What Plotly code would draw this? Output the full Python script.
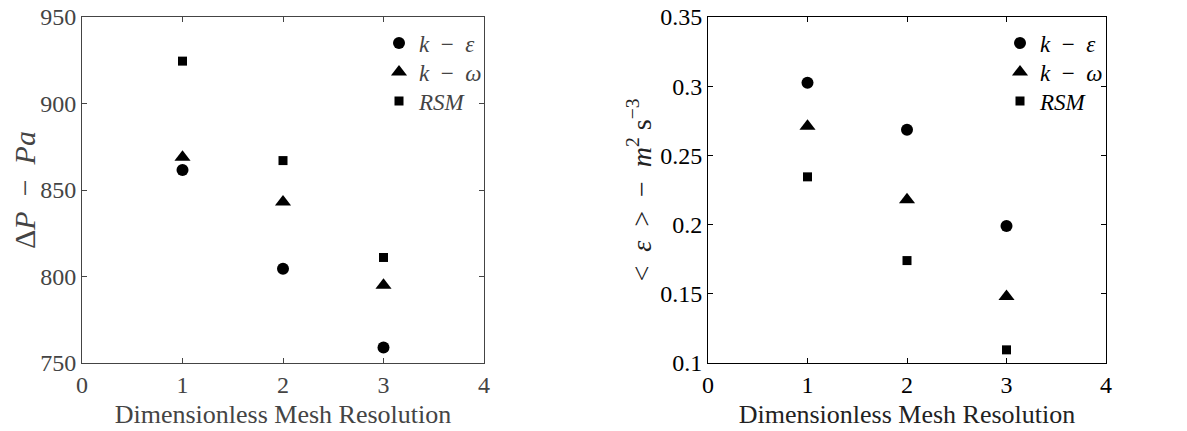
import plotly.graph_objects as go

mesh = [1, 2, 3]
dp_keps = [861.5, 804.5, 759]
dp_komega = [869, 843, 795]
dp_rsm = [924.5, 867, 811]
eps_keps = [0.3025, 0.2685, 0.199]
eps_komega = [0.271, 0.218, 0.148]
eps_rsm = [0.2345, 0.174, 0.1095]
names = ["<i>k</i>  −  <i>ε</i>", "<i>k</i>  −  <i>ω</i>", "<i>RSM</i>"]
symbols = ["circle", "triangle-up", "square"]
sizes = [12, 14, 9]

FONT = "Liberation Serif"
W, H = 1179, 423
row_y = [35, 64, 93]  # legend row centres (px from top)
fig = go.Figure()
for i, (series, nm, sym, sz) in enumerate(zip([dp_keps, dp_komega, dp_rsm], names, symbols, sizes)):
    fig.add_trace(go.Scatter(x=mesh, y=series, mode="markers", name=nm, showlegend=True,
                             marker=dict(symbol=sym, size=sz, color="black"),
                             xaxis="x", yaxis="y", legend=f"legend{i + 2}"))
for i, (series, nm, sym, sz) in enumerate(zip([eps_keps, eps_komega, eps_rsm], names, symbols, sizes)):
    fig.add_trace(go.Scatter(x=mesh, y=series, mode="markers", name=nm, showlegend=True,
                             marker=dict(symbol=sym, size=sz, color="black"),
                             xaxis="x2", yaxis="y2", legend=f"legend{i + 5}"))

def ax(col, **kw):
    d = dict(showgrid=False, zeroline=False, ticks="inside", ticklen=5,
             mirror="ticks", showline=True, linewidth=1, automargin=False,
             linecolor=col, tickcolor=col, ticklabeloverflow="allow",
             tickfont=dict(family=FONT, size=24, color=col))
    d.update(kw)
    return d

left_col = "#444444"
ydom = [(H - 355) / H, (H - 9) / H]
legends = {}
for i in range(6):
    key = f"legend{i + 2}"
    left = i < 3
    legends[key] = dict(x=(371 if left else 992) / W, y=(H - row_y[i % 3]) / H,
                        xanchor="left", yanchor="middle", bgcolor="rgba(0,0,0,0)",
                        font=dict(family=FONT, size=23, color=left_col if left else "black"),
                        itemwidth=30)
fig.update_layout(
    width=W, height=H, showlegend=True,
    margin=dict(l=0, r=0, t=0, b=0),
    plot_bgcolor="white", paper_bgcolor="white",
    font=dict(family=FONT, color="black"),
    xaxis=ax(left_col, domain=[74 / W, 476 / W], range=[0, 4], dtick=1, anchor="y",
             title=dict(text="Dimensionless Mesh Resolution", font=dict(family=FONT, size=26, color=left_col), standoff=8)),
    yaxis=ax(left_col, domain=ydom, range=[750, 950], dtick=50, anchor="x",
             title=dict(text="Δ<i>P</i>  −  <i>Pa</i>", font=dict(family=FONT, size=30, color=left_col), standoff=8)),
    xaxis2=ax("black", domain=[700 / W, 1098 / W], range=[0, 4], dtick=1, anchor="y2",
              title=dict(text="Dimensionless Mesh Resolution", font=dict(family=FONT, size=26, color="#222222"), standoff=8)),
    yaxis2=ax("black", domain=ydom, range=[0.1, 0.35], dtick=0.05, anchor="x2", tickformat="~g",
              title=dict(text="&lt;  <i>ε</i>  &gt;  −  <i>m</i><sup>2</sup> s<sup>−3</sup>", font=dict(family=FONT, size=28, color="#222222"), standoff=0)),
    **legends,
)
fig.write_html("out.html")
